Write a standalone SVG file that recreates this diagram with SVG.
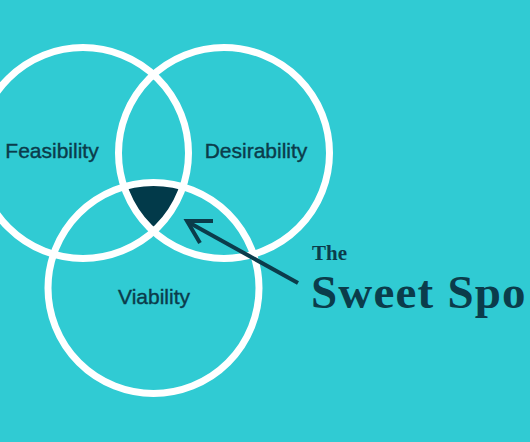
<svg xmlns="http://www.w3.org/2000/svg" width="530" height="442" viewBox="0 0 530 442">
  <style>
    .ring { fill: none; stroke: #ffffff; stroke-width: 7; }
    .label { font-family: "Liberation Sans", Arial, sans-serif; font-size: 21px; fill: #0b3c4b; stroke: #0b3c4b; stroke-width: 0.4; text-anchor: middle; }
    .serif { font-family: "Liberation Serif", "Times New Roman", serif; font-weight: bold; fill: #0b3c4b; }
    .conn { fill: none; stroke: #0b3c4b; stroke-width: 4; stroke-linecap: butt; stroke-linejoin: miter; }
  </style>
  <defs>
    <clipPath id="clipA"><circle cx="83" cy="153" r="105.5"/></clipPath>
    <clipPath id="clipB"><circle cx="224" cy="153" r="105.5"/></clipPath>
  </defs>
  <rect x="0" y="0" width="530" height="442" fill="#30cbd3"/>

  <g id="sweet-spot-fill" clip-path="url(#clipA)">
    <circle cx="153.5" cy="288" r="105.5" fill="#023a4a" clip-path="url(#clipB)"/>
  </g>

  <g id="feasibility">
    <circle class="ring" cx="83" cy="153" r="105.5"/>
    <text class="label" x="52" y="158">Feasibility</text>
  </g>
  <g id="desirability">
    <circle class="ring" cx="224" cy="153" r="105.5"/>
    <text class="label" x="256" y="158">Desirability</text>
  </g>
  <g id="viability">
    <circle class="ring" cx="153.5" cy="288" r="105.5"/>
    <text class="label" x="154" y="304">Viability</text>
  </g>

  <g id="connectors">
    <line class="conn" x1="298" y1="283" x2="188" y2="222"/>
    <polyline class="conn" points="213,221 187,221 200,243"/>
  </g>

  <g id="title">
    <text class="serif" x="312" y="260" font-size="21">The</text>
    <text class="serif" x="311" y="307.5" font-size="47" letter-spacing="1.2">Sweet Spo</text>
  </g>
</svg>
